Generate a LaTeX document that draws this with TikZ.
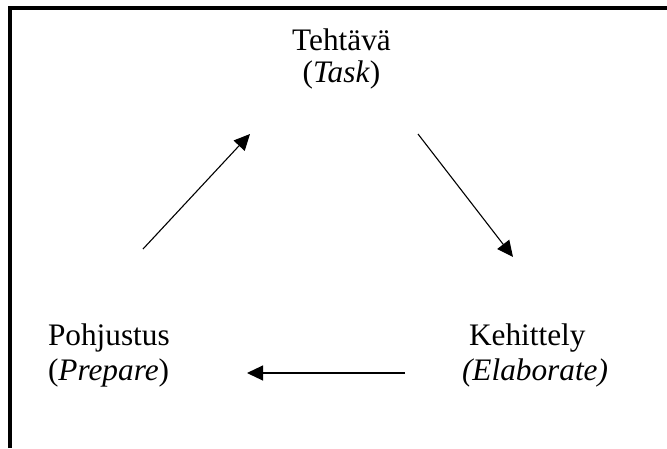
\documentclass[tikz,border=0pt]{standalone}
\usepackage{fontspec}
\setmainfont{Liberation Serif}
\usetikzlibrary{arrows.meta}
\tikzset{
  lbl/.style={inner sep=0pt, outer sep=0pt, font=\fontsize{31.3}{35}\selectfont},
  flow/.style={line width=1.1pt, -{Triangle[length=16pt,width=15pt]}},
  frameline/.style={line width=4pt}
}
\begin{document}
\begin{tikzpicture}[x=1pt,y=-1pt]
\useasboundingbox (0,0) rectangle (667,448);
\fill[white] (0,0) rectangle (667,448);
\draw[frameline] (10,448) -- (10,8) -- (667,8);
% Task
\node[lbl, anchor=base] (task1) at (341.5,50) {Tehtävä};
\node[lbl, anchor=base] (task2) at (341.5,82) {(\textit{Task})};
% Prepare
\node[lbl, anchor=base west] (prep1) at (48,345) {Pohjustus};
\node[lbl, anchor=base west] (prep2) at (48,380) {(\textit{Prepare})};
% Elaborate
\node[lbl, anchor=base west] (elab1) at (469,345) {Kehittely};
\node[lbl, anchor=base west] (elab2) at (462,380) {\textit{(Elaborate)}};
% arrow ends
\coordinate (a1s) at (143,249);
\coordinate (a1e) at (250,134);
\coordinate (a2s) at (418,134);
\coordinate (a2e) at (513,257);
\coordinate (a3s) at (405,373);
\coordinate (a3e) at (247,373);
\draw[flow] (a1s) -- (a1e);
\draw[flow] (a2s) -- (a2e);
\draw[flow] (a3s) -- (a3e);
\end{tikzpicture}
\end{document}
